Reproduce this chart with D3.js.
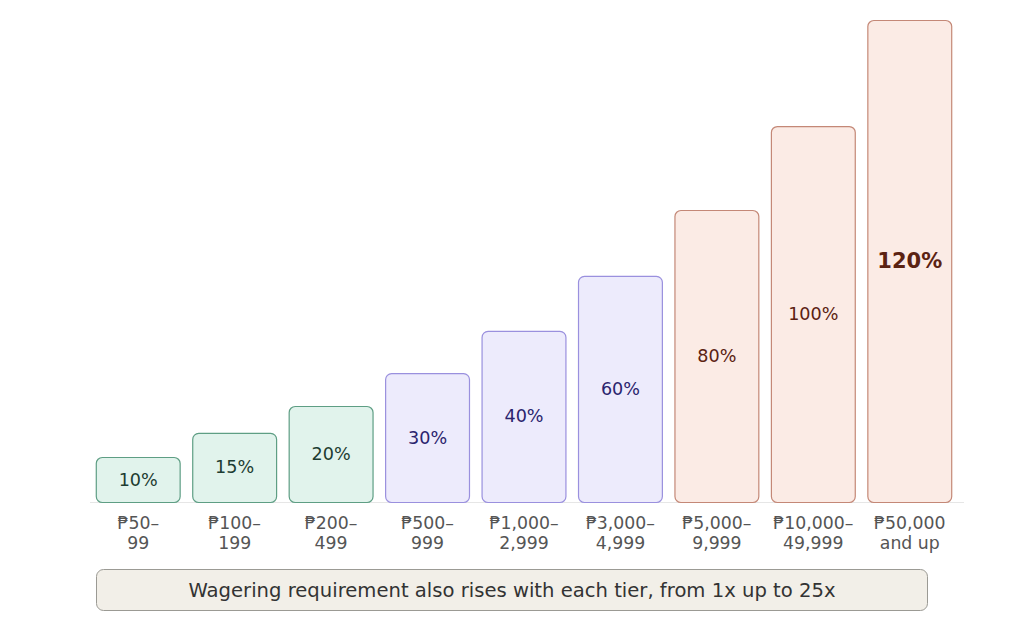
<!DOCTYPE html>
<html>
<head>
<meta charset="utf-8">
<script src="https://cdn.jsdelivr.net/npm/d3@7"></script>
<style>
  body { margin: 0; background: #fff; }
  text { font-family: "DejaVu Sans", sans-serif; }
</style>
</head>
<body>
<script>
// Deposit tiers (two-line tick labels)
const tiers = [
  ["₱50–", "99"],
  ["₱100–", "199"],
  ["₱200–", "499"],
  ["₱500–", "999"],
  ["₱1,000–", "2,999"],
  ["₱3,000–", "4,999"],
  ["₱5,000–", "9,999"],
  ["₱10,000–", "49,999"],
  ["₱50,000", "and up"]
];
// Bonus percentage shown on each bar
const bonusPct = [10, 15, 20, 30, 40, 60, 80, 100, 120];
// Bar height as drawn (not strictly proportional)
const barSize = [11.2, 17.2, 23.9, 32.1, 42.6, 56.3, 72.7, 93.6, 120];
// Colour group per tier
const group = ["low", "low", "low", "mid", "mid", "mid", "high", "high", "high"];
const footNote = "Wagering requirement also rises with each tier, from 1x up to 25x";

const palette = {
  low:  {fill: "#e1f3ec", stroke: "#5e9e84", text: "#1d3c32"},
  mid:  {fill: "#edebfc", stroke: "#9a90de", text: "#2b246e"},
  high: {fill: "#fbebe5", stroke: "#c48877", text: "#5b2212"}
};

const W = 1024, H = 623;
const baseY = 502, topY = 20;

const svg = d3.select("body").append("svg")
    .attr("width", W)
    .attr("height", H);

const x = d3.scaleBand()
    .domain(d3.range(tiers.length))
    .range([90, 958])
    .paddingInner(0.12)
    .paddingOuter(0.06);

const y = d3.scaleLinear()
    .domain([0, 120])
    .range([baseY, topY]);

// baseline
svg.append("line")
    .attr("x1", 90).attr("x2", 964)
    .attr("y1", baseY + 0.5).attr("y2", baseY + 0.5)
    .attr("stroke", "#e6e6e6");

const bars = svg.selectAll("g.bar")
    .data(bonusPct)
    .enter()
    .append("g")
    .attr("class", "bar");

bars.append("rect")
    .attr("x", (d, i) => x(i) + 0.5)
    .attr("y", (d, i) => y(barSize[i]) + 0.5)
    .attr("width", x.bandwidth() - 1)
    .attr("height", (d, i) => baseY - y(barSize[i]))
    .attr("rx", 6)
    .attr("fill", (d, i) => palette[group[i]].fill)
    .attr("stroke", (d, i) => palette[group[i]].stroke)
    .attr("stroke-width", 1.2);

bars.append("text")
    .attr("x", (d, i) => x(i) + x.bandwidth() / 2)
    .attr("y", (d, i) => (y(barSize[i]) + baseY) / 2)
    .attr("text-anchor", "middle")
    .attr("dominant-baseline", "central")
    .attr("font-size", (d, i) => i === bonusPct.length - 1 ? "21px" : "17.6px")
    .attr("font-weight", (d, i) => i === bonusPct.length - 1 ? "bold" : "normal")
    .attr("fill", (d, i) => palette[group[i]].text)
    .text(d => d + "%");

// x axis labels
const ticks = svg.selectAll("text.tick")
    .data(tiers)
    .enter()
    .append("text")
    .attr("class", "tick")
    .attr("text-anchor", "middle")
    .attr("font-size", "17.3px")
    .attr("fill", "#555");

ticks.selectAll("tspan")
    .data((d, i) => d.map(t => ({t, i})))
    .enter()
    .append("tspan")
    .attr("x", d => x(d.i) + x.bandwidth() / 2)
    .attr("y", (d, j) => 529 + j * 20)
    .text(d => d.t);

// footer note
svg.append("rect")
    .attr("x", 96.5).attr("y", 569.5)
    .attr("width", 831).attr("height", 41)
    .attr("rx", 7)
    .attr("fill", "#f2efe8")
    .attr("stroke", "#9b9a94");

svg.append("text")
    .attr("x", 512).attr("y", 590)
    .attr("text-anchor", "middle")
    .attr("dominant-baseline", "central")
    .attr("font-size", "19.6px")
    .attr("fill", "#333")
    .text(footNote);
</script>
</body>
</html>
